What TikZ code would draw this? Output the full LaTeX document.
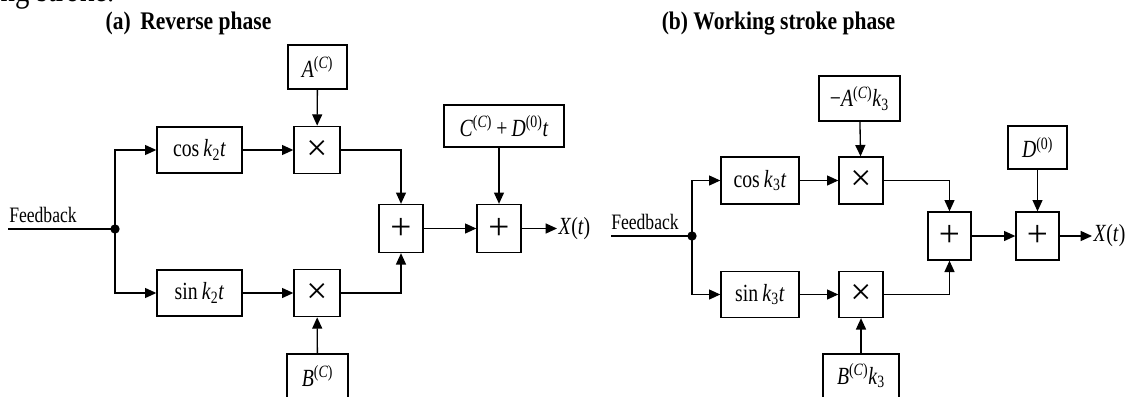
\documentclass[tikz,border=0pt]{standalone}
\usepackage{fontspec}
\setmainfont{Liberation Serif}[FakeStretch=0.8]
\newfontfamily\headfont{Liberation Serif}[FakeStretch=0.85]
\newfontfamily\opfont{Liberation Serif}
\usetikzlibrary{arrows.meta}

% italic symbol helper
\newcommand{\vi}[1]{\textit{#1}}

\begin{document}
\begin{tikzpicture}[x=0.75pt,y=-0.75pt,
  lbl/.style={font=\fontsize{18.5}{20}\selectfont},
  plain/.style={font=\fontsize{16.5}{18}\selectfont},
  blk/.style={draw, line width=1pt, inner sep=0pt, lbl},
  opbox/.style={draw, line width=1pt, inner sep=0pt,
                font=\opfont\fontsize{28}{28}\selectfont},
  ttl/.style={font=\headfont\bfseries\fontsize{19}{21}\selectfont},
  ln/.style={line width=1pt},
  arr/.style={ln, -{Triangle[length=8.5pt,width=7.5pt]}},
  dot/.style={circle, fill, inner sep=0pt, minimum size=7pt}]
\useasboundingbox (0,0) rectangle (1141,396);

% running text from the page above, cut by the page edge
\node[anchor=base west, font=\fontsize{27}{30}\selectfont] (runon) at (-4,1.5) {ng stroke.};

% ---------------- (a) Reverse phase ----------------
\node[ttl, anchor=base] (titleA) at (188.5,29) {(a)\, Reverse phase};

\node[plain, anchor=base west, inner sep=0pt] (fbAlbl) at (9,222) {Feedback};
\coordinate (fbA) at (8,229);
\node[dot] (dotA) at (115,229) {};

\node[blk, minimum width=63.75pt, minimum height=34.5pt] (cosA) at (199.5,150) {cos\,\vi{k}\textsubscript{2}\vi{t}};
\node[blk, minimum width=63.75pt, minimum height=34.5pt] (sinA) at (199.5,293) {sin\,\vi{k}\textsubscript{2}\vi{t}};

\node[opbox, minimum width=34.5pt, minimum height=35.5pt] (mulA1) at (317,150) {×};
\node[opbox, minimum width=34.5pt, minimum height=35.5pt] (mulA2) at (317,293) {×};

\node[blk, minimum width=44.25pt, minimum height=33pt] (coefA) at (317.5,67) {\vi{A}\textsuperscript{(\vi{C})}};
\node[blk, minimum width=45.75pt, minimum height=33pt] (coefB) at (317.5,376) {\vi{B}\textsuperscript{(\vi{C})}};

\node[opbox, minimum width=33pt, minimum height=36pt] (sumA1) at (401,228.5) {+};
\node[opbox, minimum width=33pt, minimum height=36pt] (sumA2) at (499,228.5) {+};

\node[blk, minimum width=90pt, minimum height=31.5pt] (coefCD) at (504,126) {\vi{C}\textsuperscript{(\vi{C})}\,+\,\vi{D}\textsuperscript{(0)}\vi{t}};

\node[lbl, anchor=west, inner sep=1pt] (outA) at (557,228.5) {\vi{X}(\vi{t})};

\draw[ln] (fbA) -- (dotA.center);
\draw[arr] (dotA.center) |- (cosA.west);
\draw[arr] (dotA.center) |- (sinA.west);
\draw[arr] (cosA) -- (mulA1);
\draw[arr] (sinA) -- (mulA2);
\draw[arr] (coefA) -- (mulA1);
\draw[arr] (coefB) -- (mulA2);
\draw[arr] (mulA1) -| (sumA1);
\draw[arr] (mulA2) -| (sumA1);
\draw[arr] (sumA1) -- (sumA2);
\draw[arr] (coefCD.south -| sumA2.north) -- (sumA2.north);
\draw[arr] (sumA2) -- (outA);

% ---------------- (b) Working stroke phase ----------------
\node[ttl, anchor=base] (titleB) at (778.5,29) {(b) Working stroke phase};

\node[plain, anchor=base west, inner sep=0pt] (fbBlbl) at (611,229) {Feedback};
\coordinate (fbB) at (611,236);
\node[dot] (dotB) at (692,236) {};

\node[blk, minimum width=58.5pt, minimum height=35.25pt] (cosB) at (760,180.5) {cos\,\vi{k}\textsubscript{3}\vi{t}};
\node[blk, minimum width=58.5pt, minimum height=34.5pt] (sinB) at (760,294.5) {sin\,\vi{k}\textsubscript{3}\vi{t}};

\node[opbox, minimum width=33pt, minimum height=35.25pt] (mulB1) at (861,180.5) {×};
\node[opbox, minimum width=33pt, minimum height=34.5pt] (mulB2) at (861,294.5) {×};

\node[blk, minimum width=60.75pt, minimum height=33.75pt] (coefAk) at (859.5,98.5) {−\vi{A}\textsuperscript{(\vi{C})}\vi{k}\textsubscript{3}};
\node[blk, minimum width=57pt, minimum height=33pt] (coefBk) at (861,376) {\vi{B}\textsuperscript{(\vi{C})}\vi{k}\textsubscript{3}};

\node[opbox, minimum width=32.25pt, minimum height=36pt] (sumB1) at (949.5,236) {+};
\node[opbox, minimum width=32.25pt, minimum height=36pt] (sumB2) at (1037.5,236) {+};

\node[blk, minimum width=44.25pt, minimum height=32.25pt] (coefD) at (1037.5,147.5) {\vi{D}\textsuperscript{(0)}};

\node[lbl, anchor=west, inner sep=1pt] (outB) at (1092,236) {\vi{X}(\vi{t})};

\draw[ln] (fbB) -- (dotB.center);
\draw[arr] (dotB.center) |- (cosB.west);
\draw[arr] (dotB.center) |- (sinB.west);
\draw[arr] (cosB) -- (mulB1);
\draw[arr] (sinB) -- (mulB2);
\draw[arr] (coefAk) -- (mulB1);
\draw[arr] (coefBk) -- (mulB2);
\draw[arr] (mulB1) -| (sumB1);
\draw[arr] (mulB2) -| (sumB1);
\draw[arr] (sumB1) -- (sumB2);
\draw[arr] (coefD) -- (sumB2);
\draw[arr] (sumB2) -- (outB);
\end{tikzpicture}
\end{document}
